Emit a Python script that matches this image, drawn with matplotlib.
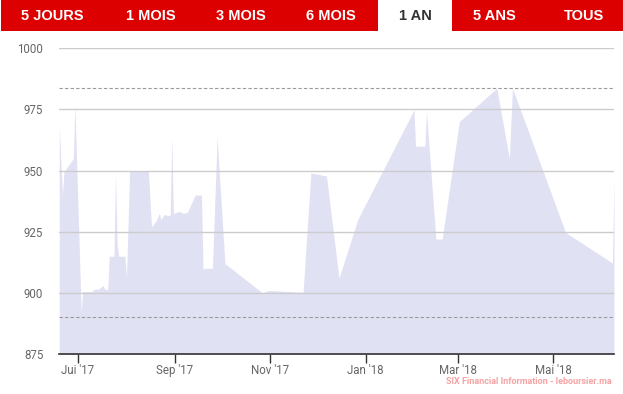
import matplotlib
matplotlib.use("Agg")
import matplotlib.pyplot as plt
from matplotlib.patches import Rectangle
import pandas as pd

dates = ["2017-06-19", "2017-06-21", "2017-06-22", "2017-06-28", "2017-06-29",
         "2017-07-03", "2017-07-04", "2017-07-10", "2017-07-11", "2017-07-14",
         "2017-07-17", "2017-07-18", "2017-07-20", "2017-07-21", "2017-07-24",
         "2017-07-25", "2017-07-26", "2017-07-27", "2017-07-31", "2017-08-01",
         "2017-08-03", "2017-08-15", "2017-08-17", "2017-08-20", "2017-08-22",
         "2017-08-23", "2017-08-25", "2017-08-28", "2017-08-29", "2017-08-30",
         "2017-08-31", "2017-09-04", "2017-09-06", "2017-09-09", "2017-09-14",
         "2017-09-18", "2017-09-19", "2017-09-20", "2017-09-25", "2017-09-28",
         "2017-10-03", "2017-10-27", "2017-10-31", "2017-11-22", "2017-11-27",
         "2017-12-07", "2017-12-15", "2017-12-27", "2018-02-01", "2018-02-02",
         "2018-02-08", "2018-02-09", "2018-02-15", "2018-02-19", "2018-03-02",
         "2018-03-26", "2018-04-03", "2018-04-05", "2018-05-09", "2018-06-08",
         "2018-06-09"]
values = [968, 940, 949.5, 955, 977,
          892, 900.5, 900.5, 901.5, 901.5,
          903, 901.5, 901.5, 915, 915,
          949, 920, 915, 915, 906,
          950, 950, 927, 929.5, 932.5,
          930, 932, 931.5, 932, 964,
          932.5, 933.3, 932.5, 933, 940,
          940, 909.5, 910, 910, 963.5,
          912, 900, 901, 900.2, 949,
          947.8, 906, 930, 974.8, 960,
          960, 974, 922, 922, 970,
          983.7, 955, 983.7, 924.7, 912.2,
          947.5]

ref_high = 983.7
ref_low = 890
y_ticks = [875, 900, 925, 950, 975, 1000]
x_tick_dates = ["2017-07-01", "2017-09-01", "2017-11-01", "2018-01-01", "2018-03-01", "2018-05-01"]
x_tick_labels = ["Jui '17", "Sep '17", "Nov '17", "Jan '18", "Mar '18", "Mai '18"]
tabs = ["5 JOURS", "1 MOIS", "3 MOIS", "6 MOIS", "1 AN", "5 ANS", "TOUS"]
active_tab = "1 AN"
watermark = "SIX Financial Information - leboursier.ma"

W, H = 623, 394
fig = plt.figure(figsize=(W / 100, H / 100), dpi=100)
fig.patch.set_facecolor("white")

# tab bar
fig.patches.append(Rectangle((1 / W, 1 - 30.7 / H), 622 / W, 30.7 / H,
                             transform=fig.transFigure, facecolor="#dc0000",
                             edgecolor="none", zorder=0))
fig.patches.append(Rectangle((378.3 / W, 1 - 30.7 / H), 74 / W, 30.7 / H,
                             transform=fig.transFigure, facecolor="white",
                             edgecolor="none", zorder=1))
tab_centers = [52.5, 150.5, 241, 331, 415, 494, 584.5]
for name, cx in zip(tabs, tab_centers):
    fig.text(cx / W, 1 - 16 / H, name, ha="center", va="center",
             fontsize=10.5, fontweight="bold", family="Liberation Sans",
             color="#333333" if name == active_tab else "white", zorder=3)

ax = fig.add_axes([59.3 / W, 1 - 354 / H, (614 - 59.3) / W, (354 - 48.3) / H])
d = pd.to_datetime(dates)
ax.fill_between(d, values, 875, color="#e1e1f4", linewidth=0, zorder=2)

ax.set_ylim(875, 1000)
ax.set_xlim(d[0], d[-1])
for yv in y_ticks[1:]:
    ax.axhline(yv, color="#cccccc", linewidth=1, zorder=3)
ax.axhline(ref_high, color="#999999", linewidth=0.8, linestyle=(0, (3, 2)), zorder=4)
ax.axhline(ref_low, color="#999999", linewidth=0.8, linestyle=(0, (3, 2)), zorder=4)

for s in ["top", "right", "left"]:
    ax.spines[s].set_visible(False)
ax.spines["bottom"].set_color("#333333")
ax.spines["bottom"].set_linewidth(1.2)
ax.spines["bottom"].set_zorder(5)

ax.set_yticks(y_ticks)
ax.set_yticklabels([str(v) for v in y_ticks])
ax.tick_params(axis="y", length=0, pad=11.5, labelsize=8.3, labelcolor="#666666")
for lab in ax.get_yticklabels():
    lab.set_family("Roboto")

ax.set_xticks(pd.to_datetime(x_tick_dates))
ax.set_xticklabels(x_tick_labels)
ax.tick_params(axis="x", direction="out", length=6.5, width=1, color="#333333",
               pad=0.8, labelsize=8.3, labelcolor="#666666")
for lab in ax.get_xticklabels():
    lab.set_family("Roboto")

fig.text(611.7 / W, 1 - 382 / H, watermark, ha="right", va="center",
         fontsize=6.5, fontweight="bold", family="Roboto", color="#f5a3a3")

fig.savefig("out.png", dpi=100)
